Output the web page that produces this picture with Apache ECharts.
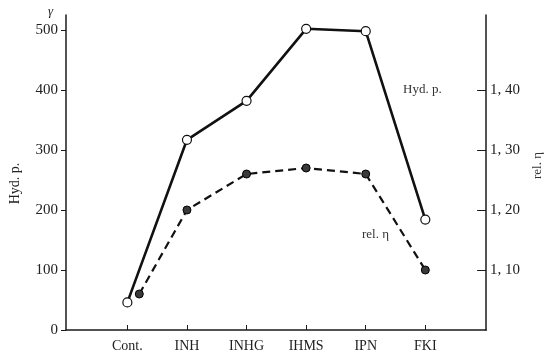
<!DOCTYPE html>
<html>
<head>
<meta charset="utf-8">
<script src="https://cdn.jsdelivr.net/npm/echarts@6/dist/echarts.min.js"></script>
<style>
  html, body { margin: 0; padding: 0; background: #fff; }
  #chart { width: 552px; height: 355px; }
</style>
</head>
<body>
<div id="chart"></div>
<script>
// categories along the x axis
const categories = ['Cont.', 'INH', 'INHG', 'IHMS', 'IPN', 'FKI']

// Hyd. p. (left axis, γ)
const hydP = [46, 317, 382, 502, 498, 184]

// rel. η (right axis); the Cont. point is drawn slightly right of its tick
const relEtaX = [0.2, 1, 2, 3, 4, 5]
const relEta = [1.06, 1.20, 1.26, 1.27, 1.26, 1.10]

// tick values
const leftTicks = [0, 100, 200, 300, 400, 500]
const rightTicks = [1.1, 1.2, 1.3, 1.4]
const xTicks = [0, 1, 2, 3, 4, 5]

const serif = '"Liberation Serif", "DejaVu Serif", serif'
const ink = '#1a1a1a'

const chart = echarts.init(document.getElementById('chart'), null, { renderer: 'canvas' })

const option = {
  backgroundColor: '#fff',
  animation: false,
  grid: { left: 64, right: 64, top: 15, bottom: 25 },
  xAxis: {
    type: 'value',
    min: -1.03,
    max: 6.02,
    axisLine: { show: true, onZero: false, lineStyle: { color: ink, width: 1.5 } },
    axisTick: {
      show: true,
      inside: true,
      length: 5,
      customValues: xTicks,
      lineStyle: { color: ink, width: 1 }
    },
    axisLabel: {
      customValues: xTicks,
      margin: 9,
      color: '#222',
      fontFamily: serif,
      fontSize: 14,
      formatter: v => categories[Math.round(v)] || ''
    },
    splitLine: { show: false }
  },
  yAxis: [
    {
      type: 'value',
      position: 'left',
      min: 0,
      max: 525,
      name: 'Hyd. p.',
      nameLocation: 'middle',
      nameGap: 44,
      nameTextStyle: { color: '#222', fontFamily: serif, fontSize: 14, padding: [0, 0, 0, -22] },
      axisLine: { show: true, onZero: false, lineStyle: { color: ink, width: 1.5 } },
      axisTick: {
        show: true,
        length: 5,
        customValues: leftTicks,
        lineStyle: { color: ink, width: 1 }
      },
      axisLabel: {
        customValues: leftTicks,
        margin: 8,
        color: '#222',
        fontFamily: serif,
        fontSize: 15
      },
      splitLine: { show: false }
    },
    {
      type: 'value',
      position: 'right',
      min: 1.0,
      max: 1.525,
      name: 'rel. η',
      nameLocation: 'middle',
      nameGap: 42,
      nameTextStyle: { color: '#333', fontFamily: serif, fontSize: 13, padding: [0, 0, 0, 14] },
      axisLine: { show: true, onZero: false, lineStyle: { color: ink, width: 1.5 } },
      axisTick: {
        show: true,
        inside: true,
        length: 9,
        customValues: rightTicks,
        lineStyle: { color: ink, width: 1 }
      },
      axisLabel: {
        customValues: rightTicks,
        margin: 4,
        color: '#222',
        fontFamily: serif,
        fontSize: 15,
        formatter: v => v.toFixed(2).replace('.', ', ')
      },
      splitLine: { show: false }
    }
  ],
  graphic: [
    {
      type: 'text',
      left: 48,
      top: 5,
      style: { text: 'γ', fill: '#222', font: 'italic 13px ' + serif }
    },
    {
      type: 'text',
      left: 403,
      top: 83,
      style: { text: 'Hyd. p.', fill: '#333', font: '13px ' + serif }
    },
    {
      type: 'text',
      left: 362,
      top: 228,
      style: { text: 'rel. η', fill: '#333', font: '13px ' + serif }
    }
  ],
  series: [
    {
      name: 'Hyd. p.',
      type: 'line',
      yAxisIndex: 0,
      data: hydP.map((v, i) => [i, v]),
      symbol: 'circle',
      symbolSize: 9,
      lineStyle: { color: '#111', width: 2.6 },
      itemStyle: { color: '#fff', borderColor: '#111', borderWidth: 1.2 },
      z: 3
    },
    {
      name: 'rel. η',
      type: 'line',
      yAxisIndex: 1,
      data: relEta.map((v, i) => [relEtaX[i], v]),
      symbol: 'circle',
      symbolSize: 8,
      lineStyle: { color: '#111', width: 2.2, type: [8, 5] },
      itemStyle: { color: '#3a3a3a', borderColor: '#000', borderWidth: 1 },
      z: 2
    }
  ]
}

chart.setOption(option)
</script>
</body>
</html>
